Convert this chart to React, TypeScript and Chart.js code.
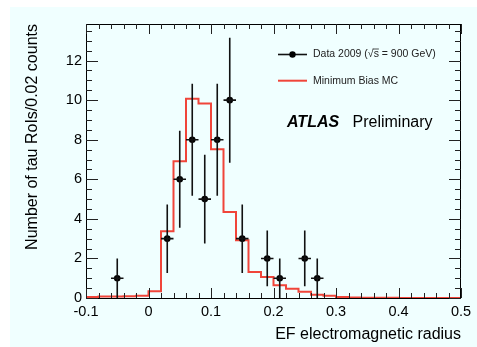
import React, { useEffect, useRef } from "react";
import { Chart, registerables } from "chart.js";

Chart.register(...registerables);

// Data points (bin centres), counts and read-off vertical errors
const dataX = [-0.05, 0.03, 0.05, 0.07, 0.09, 0.11, 0.13, 0.15, 0.19, 0.21, 0.25, 0.27];
const dataY = [1, 3, 6, 8, 5, 8, 10, 3, 2, 1, 2, 1];
const dataErr = [1, 1.73, 2.45, 2.83, 2.24, 2.83, 3.16, 1.73, 1.41, 1, 1.41, 1];
const binHalfWidth = 0.01;

// Minimum Bias MC histogram: left bin edges and values
const mcEdges = [
  -0.1, -0.08, -0.06, -0.04, -0.02, 0.0, 0.02, 0.04, 0.06, 0.08,
  0.1, 0.12, 0.14, 0.16, 0.18, 0.2, 0.22, 0.24, 0.26, 0.28,
  0.3, 0.32, 0.34, 0.36, 0.38, 0.4, 0.42, 0.44, 0.46, 0.48, 0.5,
];
const mcValues = [
  0.05, 0.07, 0.08, 0.09, 0.12, 0.34, 3.37, 6.91, 10.07, 9.83,
  7.52, 4.35, 2.92, 1.32, 1.06, 0.64, 0.47, 0.32, 0.17, 0.12,
  0.05, 0.03, 0.01, 0.01, 0.01, 0.005, 0.005, 0.005, 0.005, 0.005, 0.005,
];

const xMin = -0.1;
const xMax = 0.5;
const yMin = 0;
const yMax = 13.85;
const xMajor = [-0.1, 0, 0.1, 0.2, 0.3, 0.4, 0.5];
const xMinorStep = 0.02;
const yMajorStep = 2;
const yMinorStep = 0.5;

const legendData = "Data 2009 (√s = 900 GeV)";
const legendMC = "Minimum Bias MC";
const xTitle = "EF electromagnetic radius";
const yTitle = "Number of tau RoIs/0.02 counts";

const FONT = "'Liberation Sans', Arial, Helvetica, sans-serif";
const RED = "#f0453a";

const overlay = {
  id: "rootOverlay",
  afterDatasetsDraw(chart: any) {
    const ctx = chart.ctx;
    const xs = chart.scales.x;
    const ys = chart.scales.y;
    const { left, right, top, bottom } = chart.chartArea;
    ctx.save();
    // error bars
    ctx.strokeStyle = "#111";
    ctx.lineWidth = 1.6;
    for (let i = 0; i < dataX.length; i++) {
      const px = xs.getPixelForValue(dataX[i]);
      const py = ys.getPixelForValue(dataY[i]);
      const y1 = ys.getPixelForValue(Math.max(0, dataY[i] - dataErr[i]));
      const y2 = ys.getPixelForValue(dataY[i] + dataErr[i]);
      const x1 = xs.getPixelForValue(dataX[i] - binHalfWidth);
      const x2 = xs.getPixelForValue(dataX[i] + binHalfWidth);
      ctx.beginPath();
      ctx.moveTo(px, y1);
      ctx.lineTo(px, y2);
      ctx.moveTo(x1, py);
      ctx.lineTo(x2, py);
      ctx.stroke();
    }
    ctx.restore();
  },
  afterDraw(chart: any) {
    const ctx = chart.ctx;
    const xs = chart.scales.x;
    const ys = chart.scales.y;
    const { left, right, top, bottom } = chart.chartArea;
    ctx.save();
    // frame
    ctx.strokeStyle = "#000";
    ctx.lineWidth = 1;
    ctx.strokeRect(left + 0.5, top + 0.5, right - left - 1, bottom - top);
    ctx.strokeStyle = "#222";
    // x ticks
    const nx = Math.round((xMax - xMin) / xMinorStep);
    for (let i = 0; i <= nx; i++) {
      const v = xMin + i * xMinorStep;
      const major = i % 5 === 0;
      const len = major ? 10 : 5;
      const px = Math.round(xs.getPixelForValue(v)) + 0.5;
      ctx.beginPath();
      ctx.moveTo(px, bottom);
      ctx.lineTo(px, bottom - len);
      ctx.moveTo(px, top);
      ctx.lineTo(px, top + len);
      ctx.stroke();
    }
    // y ticks
    const ny = Math.floor((yMax - yMin) / yMinorStep);
    for (let i = 0; i <= ny; i++) {
      const v = yMin + i * yMinorStep;
      const major = Math.abs(v / yMajorStep - Math.round(v / yMajorStep)) < 1e-6;
      const len = major ? 12 : 6;
      const py = Math.round(ys.getPixelForValue(v)) + 0.5;
      ctx.beginPath();
      ctx.moveTo(left, py);
      ctx.lineTo(left + len, py);
      ctx.moveTo(right, py);
      ctx.lineTo(right - len, py);
      ctx.stroke();
    }
    // legend
    const lx1 = left + 192;
    const lx2 = left + 221;
    const ly1 = top + 30.5;
    const ly2 = top + 56.7;
    ctx.strokeStyle = "#111";
    ctx.lineWidth = 1.6;
    ctx.beginPath();
    ctx.moveTo(lx1, ly1);
    ctx.lineTo(lx2, ly1);
    ctx.stroke();
    ctx.fillStyle = "#000";
    ctx.beginPath();
    ctx.arc((lx1 + lx2) / 2, ly1, 3.2, 0, Math.PI * 2);
    ctx.fill();
    ctx.strokeStyle = RED;
    ctx.lineWidth = 2;
    ctx.beginPath();
    ctx.moveTo(lx1, ly2);
    ctx.lineTo(lx2, ly2);
    ctx.stroke();
    ctx.font = `10.5px ${FONT}`;
    ctx.textBaseline = "middle";
    ctx.textAlign = "left";
    ctx.fillStyle = "#222";
    const tx = left + 227;
    ctx.fillText(legendData, tx, ly1);
    // overline on s of √s
    const idx = legendData.indexOf("√");
    const pre = ctx.measureText(legendData.slice(0, idx + 1)).width;
    const sw = ctx.measureText("s").width;
    ctx.strokeStyle = "#222";
    ctx.lineWidth = 0.8;
    ctx.beginPath();
    ctx.moveTo(tx + pre - 1, ly1 - 5.5);
    ctx.lineTo(tx + pre + sw, ly1 - 5.5);
    ctx.stroke();
    ctx.fillText(legendMC, tx, ly2);
    // ATLAS Preliminary
    ctx.fillStyle = "#000";
    ctx.font = `italic bold 16px ${FONT}`;
    ctx.fillText("ATLAS", left + 201, top + 99);
    ctx.font = `16px ${FONT}`;
    ctx.fillText("Preliminary", left + 266.5, top + 99);
    ctx.restore();
  },
};

export default function App() {
  const ref = useRef<HTMLCanvasElement | null>(null);
  useEffect(() => {
    if (!ref.current) return;
    const chart = new Chart(ref.current, {
      type: "scatter",
      data: {
        datasets: [
          {
            label: "Data",
            data: dataX.map((x, i) => ({ x, y: dataY[i] })),
            pointRadius: 3.3,
            pointBackgroundColor: "#000",
            pointBorderWidth: 0,
            showLine: false,
            order: 0,
          },
          {
            type: "line",
            label: "MC",
            data: mcEdges.map((x, i) => ({ x, y: mcValues[i] })),
            stepped: "before",
            borderColor: RED,
            borderWidth: 2,
            pointRadius: 0,
            fill: false,
            order: 1,
          } as any,
        ],
      },
      options: {
        animation: false,
        responsive: false,
        maintainAspectRatio: false,
        layout: { padding: { left: 0, right: 16, top: 17, bottom: 0 } },
        plugins: { legend: { display: false }, tooltip: { enabled: false } },
        scales: {
          x: {
            type: "linear",
            min: xMin,
            max: xMax,
            grid: { display: false, drawTicks: false },
            border: { display: false },
            afterBuildTicks: (s: any) => {
              s.ticks = xMajor.map((v) => ({ value: v }));
            },
            afterFit: (s: any) => {
              s.height = 49;
            },
            ticks: {
              autoSkip: false,
              maxRotation: 0,
              padding: 5,
              color: "#000",
              font: { family: FONT, size: 14.5 },
              callback: (v: any) => String(Number(Number(v).toFixed(2))),
            },
            title: {
              display: true,
              text: xTitle,
              align: "end",
              color: "#000",
              font: { family: FONT, size: 16 },
              padding: { top: 0, bottom: 2.4 },
            },
          },
          y: {
            type: "linear",
            min: yMin,
            max: yMax,
            grid: { display: false, drawTicks: false },
            border: { display: false },
            afterFit: (s: any) => {
              s.width = 76;
            },
            ticks: {
              stepSize: 2,
              includeBounds: false,
              padding: 4,
              color: "#000",
              font: { family: FONT, size: 14.5 },
            },
            title: {
              display: true,
              text: yTitle,
              align: "end",
              color: "#000",
              font: { family: FONT, size: 16 },
              padding: { top: 13.4, bottom: 0 },
            },
          },
        },
      },
      plugins: [overlay],
    } as any);
    return () => chart.destroy();
  }, []);
  return (
    <div
      style={{
        position: "absolute",
        left: 10,
        top: 7,
        width: 467,
        height: 340,
        background: "#f0ffff",
      }}
    >
      <canvas ref={ref} width={467} height={340} style={{ display: "block" }} />
    </div>
  );
}
